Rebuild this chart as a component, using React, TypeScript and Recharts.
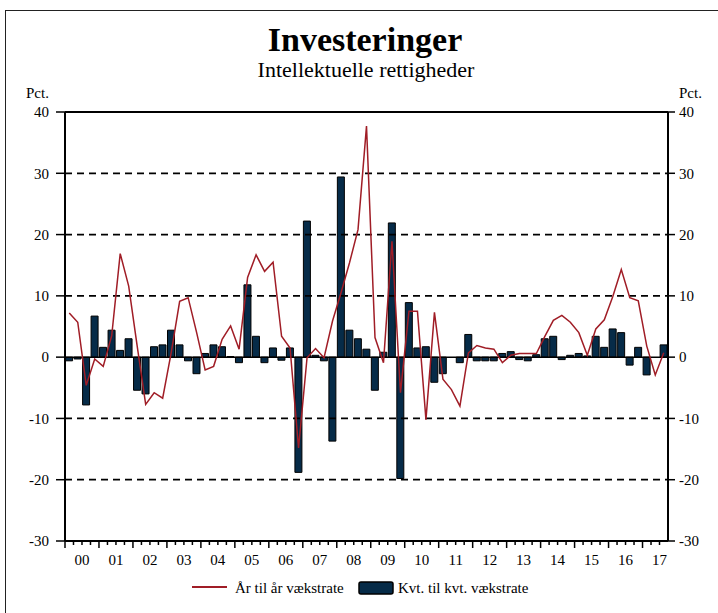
import React from "react";
import { ComposedChart, Bar, Line, XAxis, YAxis, ReferenceLine } from "recharts";

const yearLabels = ["00", "01", "02", "03", "04", "05", "06", "07", "08", "09", "10", "11", "12", "13", "14", "15", "16", "17"];
const quarterNames = ["K1", "K2", "K3", "K4"];

// Kvt. til kvt. vækstrate (bars), 2000K1 - 2017K3
const kvtGrowth = [
  -0.6, -0.3, -7.8, 6.7,
  1.6, 4.4, 1.1, 3.0,
  -5.4, -6.0, 1.7, 2.0,
  4.4, 2.0, -0.6, -2.7,
  0.6, 2.0, 1.7, 0.1,
  -0.9, 11.8, 3.4, -0.9,
  1.5, -0.5, 1.5, -18.8,
  22.2, 0.3, -0.6, -13.7,
  29.4, 4.4, 3.0, 1.3,
  -5.4, 0.8, 21.9, -19.8,
  8.9, 1.5, 1.7, -4.1,
  -2.7, 0.0, -0.9, 3.7,
  -0.6, -0.6, -0.6, 0.6,
  0.9, -0.4, -0.6, 0.4,
  3.0, 3.4, -0.4, 0.3,
  0.6, 0.2, 3.4, 1.6,
  4.6, 4.0, -1.3, 1.6,
  -2.9, 0.0, 2.0,
];

// År til år vækstrate (line)
const aarGrowth = [
  7.2, 5.7, -4.6, -0.3,
  -1.5, 3.5, 16.9, 11.6,
  1.8, -7.7, -5.8, -6.7,
  0.7, 9.1, 9.7, 4.0,
  -2.1, -1.5, 2.9, 5.1,
  1.3, 13.0, 16.7, 14.0,
  15.5, 3.4, 1.5, -14.8,
  -0.1, 1.4, -0.1, 5.9,
  10.5, 15.4, 20.8, 37.7,
  3.2, -0.9, 18.9, -5.8,
  7.5, 7.5, -10.2, 7.3,
  -3.6, -5.3, -8.0, 0.7,
  1.9, 1.5, 1.3, -0.9,
  0.3, 0.6, 0.6, 0.6,
  3.4, 6.0, 6.8, 5.7,
  4.0, 0.3, 4.6, 6.1,
  9.9, 14.3, 9.7, 9.2,
  1.8, -2.9, 0.7,
];

const yTicks = [-30, -20, -10, 0, 10, 20, 30, 40];
const yDomain = [-30, 40];
const dashedLevels = [30, 20, 10, -10, -20];

const quarters = kvtGrowth.map((_, i) => `${yearLabels[Math.floor(i / 4)]}${quarterNames[i % 4]}`);
const data = quarters.map((q, i) => ({ q, kvt: kvtGrowth[i], aar: aarGrowth[i] }));

const W = 718;
const H = 613;
const M = { top: 112, right: 15, bottom: 42, left: 30 };
const YW = 35;
const XH = 30;
const PLOT_LEFT = M.left + YW;
const PLOT_RIGHT = W - M.right - YW;
const PLOT_BOTTOM = H - M.bottom - XH;
const BAND = (PLOT_RIGHT - PLOT_LEFT) / data.length;

const FONT = "'Liberation Serif', serif";
const BAR_COLOR = "#062b48";
const LINE_COLOR = "#a01d26";

function XTick(props: any) {
  const { payload } = props;
  const i = quarters.indexOf(payload.value);
  const cx = payload.coordinate;
  const left = cx - BAND / 2;
  const long = i % 4 === 0;
  return (
    <g>
      <line x1={left} x2={left} y1={PLOT_BOTTOM} y2={PLOT_BOTTOM + (long ? 7 : 4)} stroke="#000" strokeWidth={1.5} />
      {i % 4 === 1 && (
        <text x={cx + BAND / 2} y={PLOT_BOTTOM + 24} textAnchor="middle" fontSize={15} fontFamily={FONT} fill="#000">
          {yearLabels[Math.floor(i / 4)]}
        </text>
      )}
    </g>
  );
}

const tickStyle = { fontSize: 15, fill: "#000", fontFamily: FONT };

export default function App() {
  return (
    <div style={{ position: "absolute", left: 0, top: 0, width: W, height: H, overflow: "hidden", background: "#fff" }}>
      <div
        style={{
          position: "absolute",
          left: 5,
          top: 10,
          width: W,
          height: H,
          borderLeft: "1.5px solid #222",
          borderTop: "1.5px solid #222",
        }}
      />
      <div style={{ position: "absolute", left: 0, top: 0 }}>
        <ComposedChart width={W} height={H} data={data} margin={M} barCategoryGap={0.6}>
          <XAxis
            dataKey="q"
            height={XH}
            interval={0}
            tickLine={false}
            axisLine={{ stroke: "#000", strokeWidth: 2 }}
            tick={<XTick />}
          />
          <YAxis
            yAxisId="l"
            width={YW}
            domain={yDomain}
            ticks={yTicks}
            interval={0}
            tickSize={9}
            tickMargin={7}
            axisLine={{ stroke: "#000", strokeWidth: 2 }}
            tickLine={{ stroke: "#000", strokeWidth: 1.5 }}
            tick={tickStyle}
          />
          <YAxis
            yAxisId="r"
            orientation="right"
            width={YW}
            domain={yDomain}
            ticks={yTicks}
            interval={0}
            tickSize={7}
            tickMargin={4}
            axisLine={{ stroke: "#000", strokeWidth: 2 }}
            tickLine={{ stroke: "#000", strokeWidth: 1.5 }}
            tick={tickStyle}
          />
          {dashedLevels.map((v) => (
            <ReferenceLine key={v} yAxisId="l" y={v} stroke="#000" strokeWidth={1.8} strokeDasharray="7 5" />
          ))}
          <ReferenceLine yAxisId="l" y={40} stroke="#000" strokeWidth={2} />
          <Bar yAxisId="l" dataKey="kvt" fill={BAR_COLOR} stroke="#000" strokeWidth={1} isAnimationActive={false} />
          <ReferenceLine yAxisId="l" y={0} stroke="#000" strokeWidth={1.5} />
          <Line
            yAxisId="r"
            type="linear"
            dataKey="aar"
            stroke={LINE_COLOR}
            strokeWidth={1.5}
            dot={false}
            activeDot={false}
            isAnimationActive={false}
          />
        </ComposedChart>
      </div>
      <svg width={W} height={H} style={{ position: "absolute", left: 0, top: 0, pointerEvents: "none" }}>
        <text x={365} y={51} textAnchor="middle" fontSize={34} fontWeight="bold" fontFamily={FONT} fill="#000">
          Investeringer
        </text>
        <text x={366} y={77} textAnchor="middle" fontSize={22} fontFamily={FONT} fill="#000">
          Intellektuelle rettigheder
        </text>
        <text x={26} y={98} fontSize={15} fontFamily={FONT} fill="#000">Pct.</text>
        <text x={679} y={98} fontSize={15} fontFamily={FONT} fill="#000">Pct.</text>
        <line x1={192} x2={227} y1={587} y2={587} stroke={LINE_COLOR} strokeWidth={2} />
        <text x={235} y={593} fontSize={15} fontFamily={FONT} fill="#000">År til år vækstrate</text>
        <rect x={359} y={582} width={34} height={12} rx={2} fill={BAR_COLOR} stroke="#000" strokeWidth={1.5} />
        <text x={398} y={593} fontSize={15} fontFamily={FONT} fill="#000">Kvt. til kvt. vækstrate</text>
      </svg>
    </div>
  );
}
